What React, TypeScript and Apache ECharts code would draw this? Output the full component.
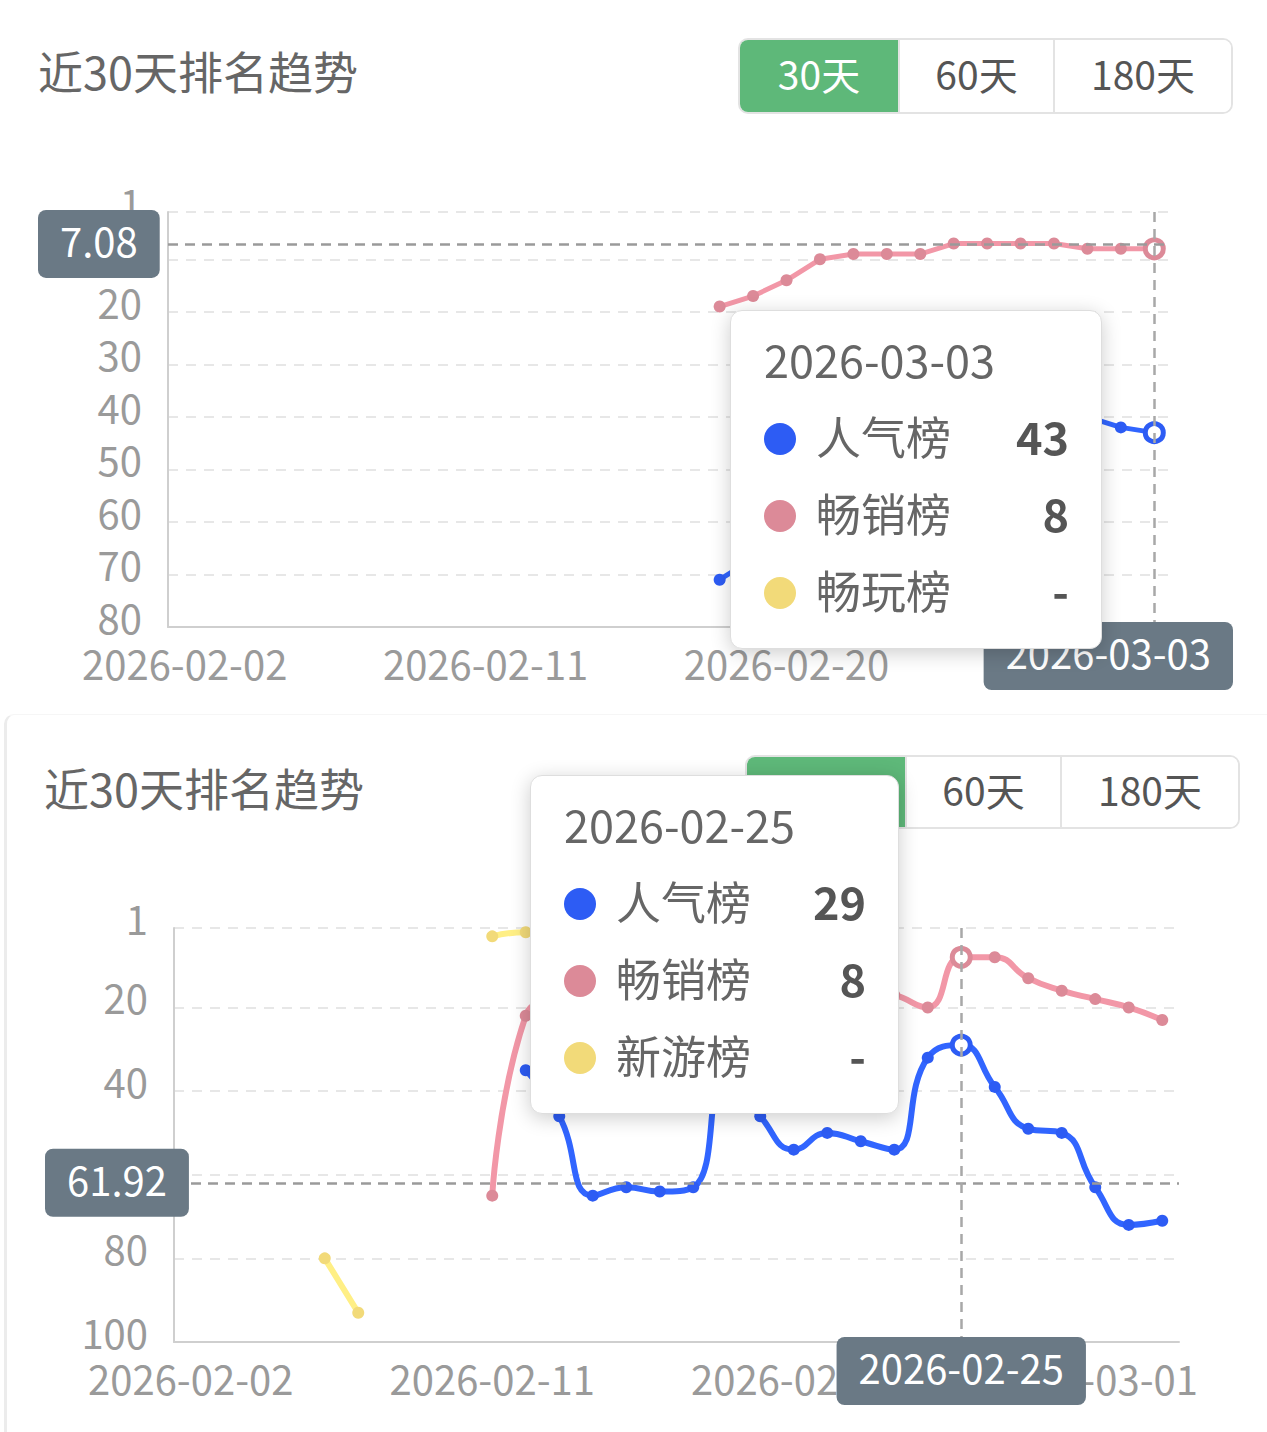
import { useEffect, useRef } from 'react';

import * as echarts from 'echarts';

const FONT = '"Noto Sans CJK SC", "Noto Sans", sans-serif';

const TITLE = '近30天排名趋势';
const RANGES = ['30天', '60天', '180天'];

const dates = [
    '2026-02-02', '2026-02-03', '2026-02-04', '2026-02-05', '2026-02-06', '2026-02-07',
    '2026-02-08', '2026-02-09', '2026-02-10', '2026-02-11', '2026-02-12', '2026-02-13',
    '2026-02-14', '2026-02-15', '2026-02-16', '2026-02-17', '2026-02-18', '2026-02-19',
    '2026-02-20', '2026-02-21', '2026-02-22', '2026-02-23', '2026-02-24', '2026-02-25',
    '2026-02-26', '2026-02-27', '2026-02-28', '2026-03-01', '2026-03-02', '2026-03-03',
];

const BLUE = '#2d5cf4';
const PINK = '#dc8a98';
const YELLOW = '#f2da79';

// chart 1 (upper)
const topPopular = [
    null, null, null, null, null, null, null, null, null, null, null, null, null, null, null, null,
    71, 67, 64, 61, 58, 55, 52, 50, 47, 45, 43, 40, 42, 43,
];
const topGrossing = [
    null, null, null, null, null, null, null, null, null, null, null, null, null, null, null, null,
    19, 17, 14, 10, 9, 9, 9, 7, 7, 7, 7, 8, 8, 8,
];
const topPlaying = [
    null, null, null, null, null, null, null, null, null, null, null, null, null, null, null,
    null, null, null, null, null, null, null, null, null, null, null, null, null, null, null,
];

// chart 2 (lower)
const bottomPopular = [
    null, null, null, null, null, null, null, null, null, null,
    35, 46, 65, 63, 64, 63, 36, 46, 54, 50, 52, 54, 32, 29, 39, 49, 50, 63, 72, 71,
];
const bottomGrossing = [
    null, null, null, null, null, null, null, null, null,
    65, 22, 18, 16, 15, 15, 14, 12, 13, 14, 15, 16, 17, 20, 8, 8, 13, 16, 18, 20, 23,
];
const bottomNewGames = [
    null, null, null, null, 80, 93, null, null, null, 3, 2, 2, null, null, null,
    null, null, null, null, null, null, null, null, null, null, null, null, null, null, null,
];

type SeriesDef = { name: string; color: string; data: (number | null)[] };

const topSeries: SeriesDef[] = [
    { name: '人气榜', color: BLUE, data: topPopular },
    { name: '畅销榜', color: PINK, data: topGrossing },
    { name: '畅玩榜', color: YELLOW, data: topPlaying },
];

const bottomSeries: SeriesDef[] = [
    { name: '人气榜', color: BLUE, data: bottomPopular },
    { name: '畅销榜', color: PINK, data: bottomGrossing },
    { name: '新游榜', color: YELLOW, data: bottomNewGames },
];

const tipHtml = (idx: number, defs: SeriesDef[], width: number) => {
    const rows = defs
        .map((d) => {
            const v = d.data[idx];
            return `<div style="display:flex;align-items:center;height:77px;">
<span style="display:inline-block;width:32px;height:32px;border-radius:50%;background:${d.color};margin-right:20px;flex:none;margin-top:6px;"></span>
<span style="color:#666;">${d.name}</span>
<span style="margin-left:auto;color:#555;font-weight:bold;">${v == null ? '-' : v}</span>
</div>`;
        })
        .join('');
    return `<div style="width:${width}px;box-sizing:border-box;padding:8px 32px 20px 33px;font-family:${FONT.replace(/"/g, "'")};font-size:45px;line-height:1;">
<div style="height:78px;display:flex;align-items:center;color:#666;">${dates[idx]}</div>${rows}</div>`;
};

type ChartProps = {
    defs: SeriesDef[];
    smooth: boolean;
    yMax: number;
    splitNumber: number;
    grid: { left: number; right: number; top: number; bottom: number };
    pointerIndex: number;
    pointerValue: number;
    tipPos: [number, number];
    tipWidth: number;
    box: { left: number; top: number; width: number; height: number };
};

const RankChart = ({ defs, smooth, yMax, splitNumber, grid, pointerIndex, pointerValue, tipPos, tipWidth, box }: ChartProps) => {
    const chartRef = useRef<HTMLDivElement | null>(null);

    useEffect(() => {
        const myChart = echarts.init(chartRef.current!, null, { renderer: 'svg' });

        const pointerLabel = {
            backgroundColor: '#6a7985',
            color: '#fff',
            fontSize: 40,
            fontFamily: FONT,
            padding: [10, 22, 18, 22],
            borderRadius: 8,
        };

        myChart.setOption({
            animation: false,
            textStyle: { fontFamily: FONT },
            grid: { ...grid, containLabel: false, outerBoundsMode: 'none' },
            tooltip: {
                trigger: 'axis',
                triggerOn: 'none',
                alwaysShowContent: true,
                transitionDuration: 0,
                confine: false,
                position: tipPos,
                padding: 0,
                backgroundColor: '#fff',
                borderColor: '#dedede',
                borderWidth: 1,
                extraCssText: 'border-radius:12px;box-shadow:0 4px 20px rgba(0,0,0,0.2);',
                axisPointer: {
                    type: 'cross',
                    lineStyle: { color: '#a8a8a8', width: 2.5, type: [10, 7] },
                    crossStyle: { color: '#9a9a9a', width: 2.5, type: [10, 7] },
                    label: pointerLabel,
                },
                formatter: (params: any) => {
                    const list = Array.isArray(params) ? params : [params];
                    return tipHtml(list[0].dataIndex, defs, tipWidth);
                },
            },
            xAxis: {
                type: 'category',
                data: dates,
                boundaryGap: true,
                axisLine: { show: true, lineStyle: { color: '#cfcfcf', width: 2 } },
                axisTick: { show: false },
                axisLabel: { interval: 8, color: '#9a9a9a', fontSize: 40, margin: 16, fontFamily: FONT },
                splitLine: { show: false },
                axisPointer: {
                    label: { ...pointerLabel, margin: -5 },
                },
            },
            yAxis: {
                type: 'value',
                inverse: true,
                min: 1,
                max: yMax,
                splitNumber,
                axisLine: { show: true, lineStyle: { color: '#cfcfcf', width: 2 } },
                axisTick: { show: false },
                axisLabel: {
                    color: '#9a9a9a',
                    fontSize: 40,
                    margin: 26,
                    fontFamily: FONT,
                    verticalAlign: 'bottom',
                    lineHeight: 20,
                },
                splitLine: { show: true, lineStyle: { color: '#e0e0e0', width: 1.5, type: [10, 8] } },
                axisPointer: {
                    label: { ...pointerLabel, margin: 10, formatter: (p: any) => Number(p.value).toFixed(2) },
                },
            },
            series: defs.map((d) => ({
                name: d.name,
                type: 'line',
                data: d.data,
                smooth,
                connectNulls: false,
                symbol: 'circle',
                symbolSize: 12,
                showSymbol: true,
                lineStyle: { color: d.color, width: smooth ? 6 : 5 },
                itemStyle: { color: d.color },
                emphasis: {
                    scale: 1.5,
                    itemStyle: { color: '#fff', borderColor: d.color, borderWidth: 5 },
                },
            })),
        });

        const pt = myChart.convertToPixel({ gridIndex: 0 }, [dates[pointerIndex], pointerValue]) as number[];
        myChart.dispatchAction({ type: 'showTip', x: pt[0], y: pt[1] });

        return () => {
            myChart.dispose();
        };
    }, []);

    return (
        <div
            ref={chartRef}
            style={{ position: 'absolute', left: box.left, top: box.top, width: box.width, height: box.height }}
        />
    );
};

const Header = ({ left, top, btnLeft, btnTop, btnHeight }: { left: number; top: number; btnLeft: number; btnTop: number; btnHeight: number }) => {
    const widths = [158, 155, 178];
    return (
        <>
            <div
                style={{
                    position: 'absolute',
                    left,
                    top,
                    fontSize: 45,
                    lineHeight: '45px',
                    color: '#666',
                    whiteSpace: 'nowrap',
                    fontFamily: FONT,
                }}
            >
                {TITLE}
            </div>
            <div
                style={{
                    position: 'absolute',
                    left: btnLeft,
                    top: btnTop,
                    display: 'flex',
                    border: '2px solid #e3e3e3',
                    borderRadius: 10,
                    overflow: 'hidden',
                    height: btnHeight,
                    fontFamily: FONT,
                }}
            >
                {RANGES.map((r, i) => (
                    <div
                        key={r}
                        style={{
                            width: widths[i],
                            boxSizing: 'border-box',
                            height: btnHeight,
                            lineHeight: `${btnHeight - 6}px`,
                            textAlign: 'center',
                            fontSize: 39,
                            background: i === 0 ? '#5eb879' : '#fff',
                            color: i === 0 ? '#fff' : '#555',
                            borderLeft: i === 0 ? 'none' : '2px solid #e3e3e3',
                        }}
                    >
                        {r}
                    </div>
                ))}
            </div>
        </>
    );
};

const App = () => {
    return (
        <div style={{ position: 'absolute', left: 0, top: 0, width: 1267, height: 1432, background: '#fff', overflow: 'hidden' }}>
            <Header left={38} top={48} btnLeft={738} btnTop={38} btnHeight={72} />
            <RankChart
                defs={topSeries}
                smooth={false}
                yMax={80}
                splitNumber={8}
                grid={{ left: 130, right: 62, top: 82, bottom: 73 }}
                pointerIndex={29}
                pointerValue={7.082}
                tipPos={[692, 180]}
                tipWidth={370}
                box={{ left: 38, top: 130, width: 1195, height: 570 }}
            />

            <div
                style={{
                    position: 'absolute',
                    left: 4,
                    top: 714,
                    width: 1300,
                    height: 760,
                    borderLeft: '3px solid #ececec',
                    borderTop: '1px solid #f6f6f6',
                    borderTopLeftRadius: 10,
                }}
            />
            <Header left={44} top={765} btnLeft={745} btnTop={755} btnHeight={70} />
            <RankChart
                defs={bottomSeries}
                smooth={true}
                yMax={100}
                splitNumber={5}
                grid={{ left: 129, right: 59, top: 78, bottom: 73 }}
                pointerIndex={23}
                pointerValue={61.922}
                tipPos={[485, -75]}
                tipWidth={367}
                box={{ left: 45, top: 850, width: 1193, height: 565 }}
            />
        </div>
    );
};

export default App;
